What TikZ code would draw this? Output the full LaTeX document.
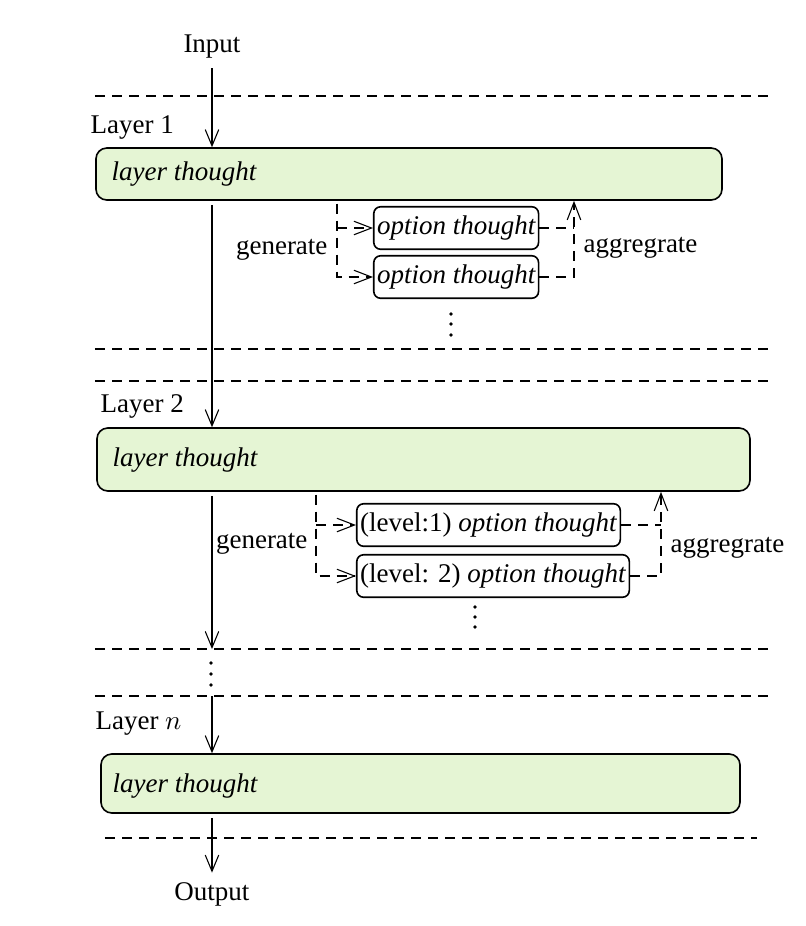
\documentclass[tikz,border=0pt]{standalone}
\usepackage{fontspec}
\setmainfont{Liberation Serif}
\usetikzlibrary{fit,arrows.meta}
\definecolor{thoughtgreen}{RGB}{229,245,212}

\tikzset{
  layerbox/.style={draw, rounded corners=4pt, fill=thoughtgreen, semithick, inner sep=0pt},
  optbox/.style={draw, rounded corners=2.5pt, fill=white, semithick, inner xsep=1.2pt, minimum height=13.5pt, font=\itshape},
  lbl/.style={inner sep=0pt},
  sepline/.style={dash pattern=on 3.7pt off 2.6pt, semithick},
  flow/.style={-{Straight Barb[length=6pt,width=5pt]}},
  branch/.style={-{Straight Barb[length=6.5pt,width=5pt]}, dash pattern=on 3.7pt off 2.6pt},
}

\begin{document}
\begin{tikzpicture}[x=0.01302cm, y=-0.01302cm]
    \useasboundingbox (0,0) rectangle (806,926);
    %input
    \node (in) at (212,47) {Input};
    \draw[sepline] (95,96) -- (770,96);
    %layer 1
    \node[lbl, anchor=west] (lab1) at (90,127) {Layer 1};
    \node[layerbox, fit={(96,148) (722,200)}] (l1) {};
    \node[lbl, anchor=west, font=\itshape] (t1) at (111,174) {layer thought};
    \draw[flow] (in.south) -- (in.south |- l1.north);
    \node[optbox, anchor=west] (o11) at (373,228) {option thought};
    \node[optbox, anchor=west] (o12) at (373,277) {option thought};
    \coordinate (g1) at (337,0);
    \coordinate (a1) at (574,0);
    \draw[branch] ([yshift=-1pt]l1.south -| g1) |- (o12.west);
    \draw[branch] (o11.west -| g1) -- (o11.west);
    \draw[branch] (o12.east) -| (l1.south -| a1);
    \draw[branch, -] (o11.east) -- (o11.east -| a1);
    \node[lbl, anchor=east] (gen1) at (328,250) {generate};
    \node[lbl, anchor=west] (agg1) at (583,248) {aggregrate};
    \foreach \y in {314,324,335} \fill (451,\y) circle [radius=1.9];
    \draw[sepline] (95,349) -- (770,349);
    \draw[sepline] (95,381) -- (770,381);
    %layer 2
    \node[lbl, anchor=west] (lab2) at (100,406) {Layer 2};
    \node[layerbox, fit={(97,428) (750,491)}] (l2) {};
    \node[lbl, anchor=west, font=\itshape] (t2) at (112,460) {layer thought};
    \draw[flow, shorten <=1.5pt] (l1.south -| in) -- (l2.north -| in);
    \node[optbox, anchor=west, font=\upshape] (o21) at (356,525) {(level:1) \textit{option thought}};
    \node[optbox, anchor=west, font=\upshape] (o22) at (356,576) {(level: 2) \textit{option thought}};
    \coordinate (g2) at (316,0);
    \coordinate (a2) at (661,0);
    \draw[branch] ([yshift=-1pt]l2.south -| g2) |- (o22.west);
    \draw[branch] (o21.west -| g2) -- (o21.west);
    \draw[branch] (o22.east) -| (l2.south -| a2);
    \draw[branch, -] (o21.east) -- (o21.east -| a2);
    \node[lbl, anchor=east] (gen2) at (308,544) {generate};
    \node[lbl, anchor=west] (agg2) at (670,548) {aggregrate};
    \foreach \y in {607,617,627} \fill (475,\y) circle [radius=1.9];
    %layer n
    \coordinate (d3) at (95,649);
    \coordinate (d4) at (95,696);
    \draw[sepline] (d3) -- (770,649);
    \draw[sepline] (d4) -- (770,696);
    \draw[flow, shorten <=1.5pt] (l2.south -| in) -- (d3 -| in);
    \foreach \y in {663,674,685} \fill (211,\y) circle [radius=1.9];
    \node[lbl, anchor=west] (labn) at (95,724) {Layer $n$};
    \node[layerbox, fit={(101,754) (740,813)}] (ln) {};
    \node[lbl, anchor=west, font=\itshape] (tn) at (112,786) {layer thought};
    \draw[flow] (d4 -| in) -- (ln.north -| in);
    %output
    \draw[sepline] (105,838) -- (757,838);
    \node (out) at (212,894) {Output};
    \draw[flow, shorten <=1.5pt] (ln.south -| in) -- (out.north);
\end{tikzpicture}
\end{document}
